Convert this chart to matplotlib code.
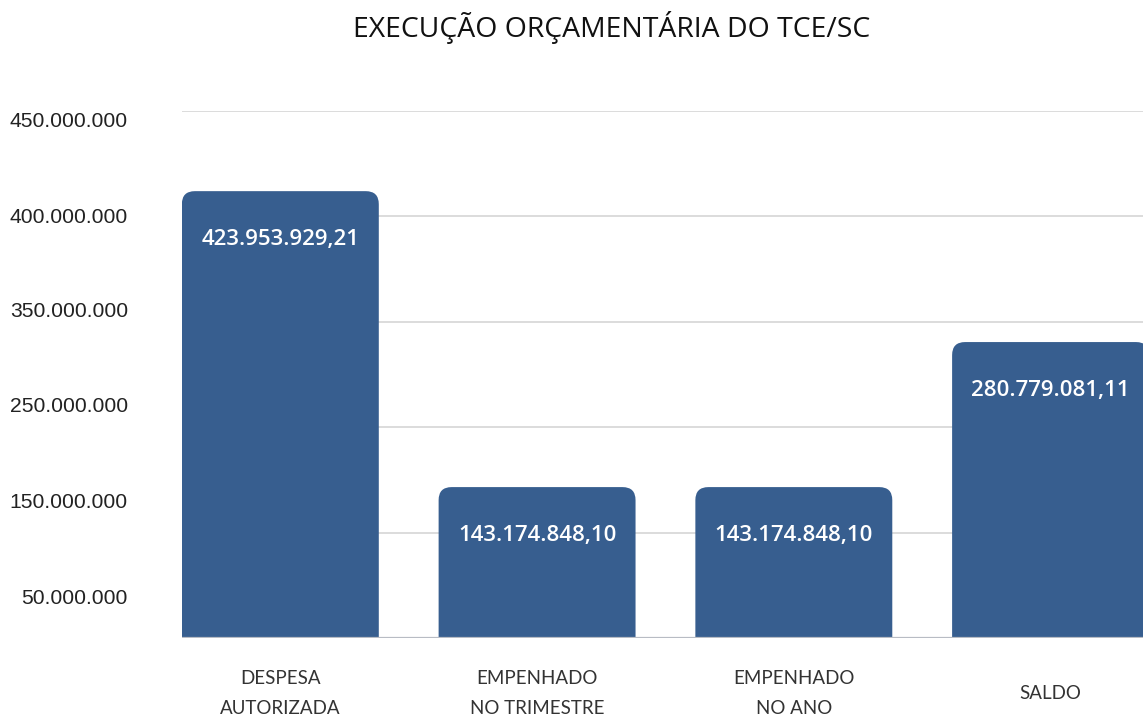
import matplotlib
matplotlib.use("Agg")
import matplotlib.pyplot as plt
from matplotlib.patches import FancyBboxPatch

# ---- data ----
categories = ["DESPESA\nAUTORIZADA", "EMPENHADO\nNO TRIMESTRE", "EMPENHADO\nNO ANO", "SALDO"]
values = [423953929.21, 143174848.10, 143174848.10, 280779081.11]
value_labels = ["423.953.929,21", "143.174.848,10", "143.174.848,10", "280.779.081,11"]
ytick_labels = ["450.000.000", "400.000.000", "350.000.000", "250.000.000", "150.000.000", "50.000.000"]
ytick_pos = [491.5e6, 400.4e6, 311.2e6, 221.1e6, 130.9e6, 39.8e6]
grid_vals = [100e6, 200e6, 300e6, 400e6, 500e6]

W, H, DPI = 1143, 720, 100
fig = plt.figure(figsize=(W / DPI, H / DPI), dpi=DPI)
ax_l, ax_r, ax_t, ax_b = 182, 1143, 111, 638
ax = fig.add_axes([ax_l / W, 1 - ax_b / H, (ax_r - ax_l) / W, (ax_b - ax_t) / H])

bar_color = "#375e8f"
width = 0.767
xlim = (-0.383, 3.36)
ylim = (0, 500e6)
ax.set_xlim(*xlim)
ax.set_ylim(*ylim)

# gridlines
for g in grid_vals:
    ax.axhline(g, color="#dcdcdc", lw=1.4, zorder=0)
ax.axhline(0, color="#b8bcc4", lw=1.6, zorder=3)

# units per pixel
xpp = (xlim[1] - xlim[0]) / (ax_r - ax_l)
ypp = (ylim[1] - ylim[0]) / (ax_b - ax_t)
r_px = 13
bars = ax.bar(range(len(values)), values, width=width, color=bar_color, alpha=0)
for b, v in zip(bars, values):
    x0 = b.get_x()
    patch = FancyBboxPatch((x0, -r_px * ypp * 2), b.get_width(), v + r_px * ypp * 2,
                           boxstyle=f"round,pad=0,rounding_size={r_px * xpp}",
                           mutation_aspect=ypp / xpp, facecolor=bar_color,
                           edgecolor="none", zorder=2)
    ax.add_patch(patch)

for i, (v, lab) in enumerate(zip(values, value_labels)):
    ax.annotate(lab, xy=(i, v), xytext=(0, -35), textcoords="offset points",
                ha="center", va="center", color="white", fontsize=16,
                fontweight="semibold", family="Open Sans", zorder=4, clip_on=False)

for s in ax.spines.values():
    s.set_visible(False)

ax.set_yticks(ytick_pos)
ax.set_yticklabels(ytick_labels, fontsize=15.2, family="Liberation Sans", color="#222222")
ax.tick_params(axis="y", length=0, pad=39)

ax.set_xticks(range(len(categories)))
ax.set_xticklabels(categories, fontsize=13.5, family="Lato", color="#333333",
                   linespacing=1.9, va="center")
ax.tick_params(axis="x", length=0, pad=40)

fig.text(612 / W, 1 - 27 / H, "EXECUÇÃO ORÇAMENTÁRIA DO TCE/SC", ha="center", va="center",
         fontsize=20.4, family="Open Sans", color="#111111")

fig.savefig("out.png", dpi=DPI)
